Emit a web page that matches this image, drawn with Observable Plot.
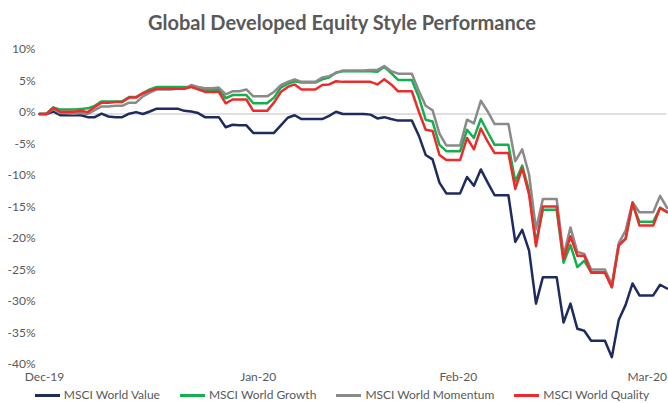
<!DOCTYPE html>
<html><head><meta charset="utf-8">
<script src="https://cdn.jsdelivr.net/npm/d3@7"></script>
<script src="https://cdn.jsdelivr.net/npm/@observablehq/plot@0.6"></script>
<style>
body{margin:0;background:#fff;font-family:Lato,"Open Sans",sans-serif;}
#wrap{position:relative;width:668px;height:403px;overflow:hidden;background:#fff;}
#title{position:absolute;top:10px;left:8px;width:668px;text-align:center;font-size:20px;line-height:24px;font-weight:700;color:#595959;}
#chart{position:absolute;top:40px;left:0;}
#legend{position:absolute;top:387px;left:8px;width:668px;display:flex;justify-content:center;gap:20px;font-size:12px;line-height:16px;color:#595959;}
.item{display:flex;align-items:center;}
.sw{width:25px;height:3px;margin-right:4px;}
</style></head>
<body><div id="wrap"><div id="title">Global Developed Equity Style Performance</div><div id="chart"></div><div id="legend"></div></div>
<script>
const seriesNames = ["MSCI World Value","MSCI World Growth","MSCI World Momentum","MSCI World Quality"];
const seriesColors = ["#1f2b5e","#12b04f","#8a8a8a","#ee2b2b"];
const startDate = "2019-12-31";
const endDate = "2020-03-31";
const tickDates = ["2019-12-31","2020-01-31","2020-02-29","2020-03-31"];
const tickLabels = ["Dec-19","Jan-20","Feb-20","Mar-20"];
const yTicks = [10,5,0,-5,-10,-15,-20,-25,-30,-35,-40];

const value = [0,0,0.4,-0.2,-0.2,-0.2,-0.2,-0.5,-0.5,0.05,-0.4,-0.5,-0.5,0.05,0.3,0,0.4,0.85,0.85,0.85,0.85,0.5,0.4,0.15,-0.5,-0.5,-0.5,-2.1,-1.7,-1.8,-1.8,-3.0,-3.0,-3.0,-3.0,-1.8,-0.6,-0.2,-0.8,-0.8,-0.8,-0.8,-0.3,0.35,0,0,0,0,-0.1,-0.7,-0.5,-0.8,-1.05,-1.05,-1.05,-3.4,-6.5,-7.2,-10.9,-12.6,-12.6,-12.6,-10.0,-11.4,-8.8,-10.9,-12.9,-12.9,-12.9,-20.3,-18.4,-21.7,-30.1,-25.9,-25.9,-25.9,-33.1,-30.1,-34.1,-34.4,-36.0,-36.0,-36.0,-38.6,-32.7,-30.3,-26.9,-28.8,-28.8,-28.8,-27.1,-27.7];
const growth = [0,0,1.05,0.7,0.7,0.7,0.8,0.9,1.3,2.0,2.0,2.0,2.0,2.7,2.7,3.3,3.9,4.3,4.3,4.3,4.3,4.3,4.3,4.0,3.8,3.8,3.9,2.5,3.0,3.0,3.0,1.7,1.7,1.7,2.6,4.2,4.8,5.2,5.0,5.0,5.0,5.5,5.8,6.6,6.8,6.8,6.8,6.8,6.8,6.7,7.5,6.5,5.4,5.4,5.4,2.7,-0.9,-1.2,-4.9,-5.9,-5.9,-5.9,-2.5,-3.8,-0.8,-2.9,-4.9,-4.9,-4.9,-10.7,-8.2,-12.2,-20.4,-15.2,-15.2,-15.2,-23.6,-20.8,-24.3,-23.3,-25.1,-25.1,-25.1,-27.5,-20.8,-19.8,-14.3,-17.1,-17.1,-17.1,-14.9,-15.5];
const momentum = [0,0,0.8,0.15,0.1,0.05,0.15,0,0.6,1.2,1.2,1.3,1.3,1.8,1.8,2.8,3.4,3.9,3.9,3.9,4.0,4.0,4.6,4.3,4.1,4.1,4.2,3.1,3.6,3.6,3.9,2.8,2.8,2.8,3.5,4.6,5.1,5.5,5.1,5.1,5.1,5.8,6.0,6.5,6.9,6.9,6.9,6.9,7.0,7.0,7.6,6.8,6.4,6.4,6.4,3.7,1.3,0.6,-3.1,-5.0,-5.0,-5.0,-0.9,-1.5,2.1,0.4,-1.6,-1.6,-1.6,-7.5,-5.6,-9.6,-18.3,-13.5,-13.5,-13.5,-22.5,-18.0,-21.9,-22.2,-24.7,-24.7,-24.7,-27.1,-20.5,-18.5,-14.0,-15.6,-15.6,-15.6,-13.0,-14.9];
const quality = [0,0,1.0,0.35,0.35,0.35,0.5,0.3,1.1,1.8,1.8,1.9,1.9,2.6,2.6,3.3,3.7,4.0,4.0,4.0,4.0,4.0,4.3,3.9,3.5,3.5,3.5,1.7,2.3,2.3,2.3,0.5,0.5,0.5,1.8,3.5,4.3,4.7,3.9,3.9,3.9,4.6,4.7,5.2,5.1,5.1,5.1,5.1,5.1,4.7,5.5,4.7,3.6,3.6,3.6,0.4,-2.5,-2.7,-6.5,-7.3,-7.3,-7.3,-3.8,-5.6,-2.3,-4.4,-6.2,-6.2,-6.2,-11.9,-8.6,-12.8,-21.0,-14.7,-14.7,-14.7,-23.0,-19.4,-22.5,-22.5,-25.2,-25.2,-25.2,-27.5,-20.9,-19.8,-14.1,-17.7,-17.7,-17.7,-14.9,-15.6];

const dates = d3.utcDay.range(new Date(startDate), d3.utcDay.offset(new Date(endDate), 1));
const rows = [];
[value, growth, momentum, quality].forEach((arr, k) => arr.forEach((v, i) => rows.push({date: dates[i], v, s: seriesNames[k]})));
const tDates = tickDates.map(d => new Date(d));
const labelMap = new Map(tDates.map((d, i) => [+d, tickLabels[i]]));

const chart = Plot.plot({
  width: 668, height: 348,
  marginLeft: 39, marginRight: 1.5, marginTop: 10.5, marginBottom: 22.5,
  x: {type: "utc", domain: [new Date(startDate), new Date(endDate)]},
  y: {domain: [-40, 10]},
  color: {domain: seriesNames, range: seriesColors},
  style: {fontFamily: "Lato, 'Open Sans', sans-serif", fontSize: "12px", color: "#595959", background: "#fff"},
  marks: [
    Plot.axisY({ticks: yTicks, tickSize: 0, tickPadding: 4, dy: -1.5, tickFormat: d => d + "%", label: null, fontSize: 12}),
    Plot.axisX({ticks: tDates.slice(0, 3), tickFormat: d => labelMap.get(+d), tickSize: 0, tickPadding: 6.5, label: null, dx: 5, fontSize: 12}),
    Plot.axisX({ticks: tDates.slice(3), tickFormat: d => labelMap.get(+d), tickSize: 0, tickPadding: 6.5, label: null, textAnchor: "end", fontSize: 12}),
    Plot.ruleY([0], {stroke: "#bfbfbf", strokeWidth: 1}),
    Plot.line(rows, {x: "date", y: "v", z: "s", stroke: "s", strokeWidth: 2.5})
  ]
});
document.getElementById("chart").appendChild(chart);

const legend = document.getElementById("legend");
seriesNames.forEach((n, i) => {
  const it = document.createElement("div"); it.className = "item";
  const sw = document.createElement("div"); sw.className = "sw"; sw.style.background = seriesColors[i];
  const tx = document.createElement("span"); tx.textContent = n;
  it.appendChild(sw); it.appendChild(tx); legend.appendChild(it);
});
</script></body></html>
